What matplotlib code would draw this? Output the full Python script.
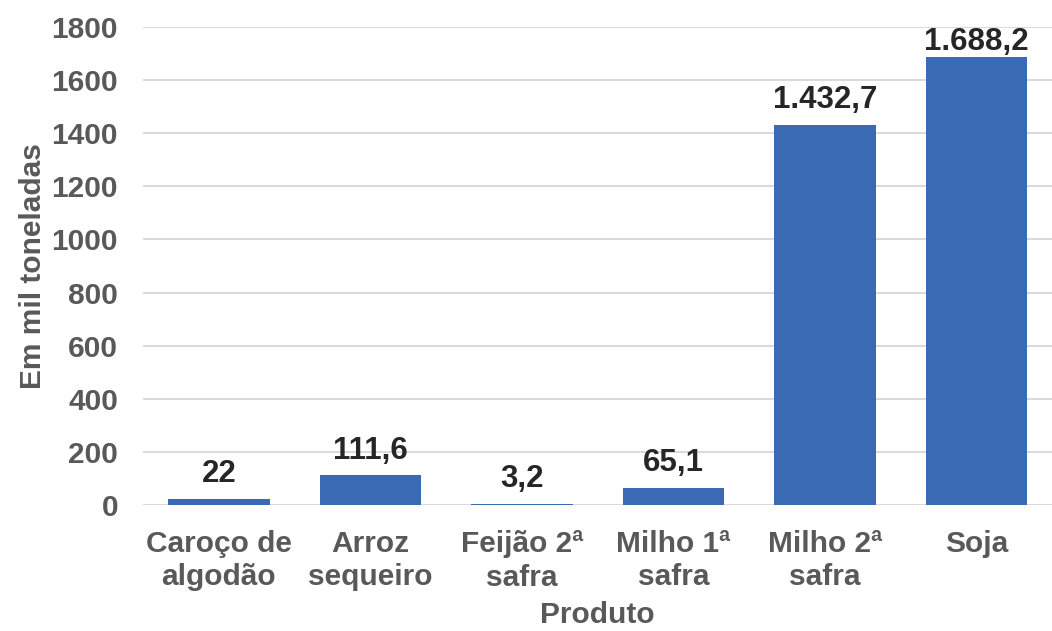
import matplotlib
matplotlib.use("Agg")
import matplotlib.pyplot as plt

# data
produtos = ["Caroço de\nalgodão", "Arroz\nsequeiro", "Feijão 2ª\nsafra",
            "Milho 1ª\nsafra", "Milho 2ª\nsafra", "Soja"]
valores = [22, 111.6, 3.2, 65.1, 1432.7, 1688.2]
rotulos = ["22", "111,6", "3,2", "65,1", "1.432,7", "1.688,2"]
yticks = [0, 200, 400, 600, 800, 1000, 1200, 1400, 1600, 1800]

plt.rcParams['font.family'] = ['Liberation Sans', 'DejaVu Sans']
plt.rcParams['font.weight'] = 'bold'

BAR = '#3a6ab4'
GRID = '#d9d9d9'
TXT = '#595959'
FS = 21.5
YMAX = 1800

fig = plt.figure(figsize=(10.52, 6.31), dpi=100, facecolor='white')
ax = fig.add_axes([0.136, 0.1997, 0.864, 0.7575])

x = range(len(produtos))
bars = ax.bar(x, valores, width=0.67, color=BAR, zorder=3)

# labels above bars; the tallest one is kept inside the plot area (like Excel)
for b, lab in zip(bars, rotulos):
    cx = b.get_x() + b.get_width() / 2
    h = b.get_height()
    if h > 0.9 * YMAX:
        ax.annotate(lab, (cx, YMAX), xytext=(0, 0), textcoords='offset points',
                    ha='center', va='top', fontsize=22.5,
                    fontweight='bold', color='#262626')
    else:
        ax.annotate(lab, (cx, h), xytext=(0, 7), textcoords='offset points',
                    ha='center', va='bottom', fontsize=22.5,
                    fontweight='bold', color='#262626')

ax.set_xlim(-0.5, len(produtos) - 0.5)
ax.set_ylim(0, YMAX)
ax.set_yticks(yticks)
ax.set_yticklabels([str(t) for t in yticks])
ax.set_xticks(list(x))
ax.set_xticklabels(produtos, linespacing=1.25)

ax.grid(axis='y', color=GRID, linewidth=1.4, zorder=0)
ax.set_axisbelow(True)
for s in ax.spines.values():
    s.set_visible(False)
ax.tick_params(axis='both', length=0, labelsize=FS, labelcolor=TXT)
ax.tick_params(axis='y', pad=18)
ax.tick_params(axis='x', pad=18)

ax.set_xlabel("Produto", fontsize=FS, fontweight='bold', color=TXT, labelpad=7)
ax.set_ylabel("Em mil toneladas", fontsize=FS, fontweight='bold', color=TXT, labelpad=3.5)

fig.savefig("out.png", dpi=100, facecolor='white')
